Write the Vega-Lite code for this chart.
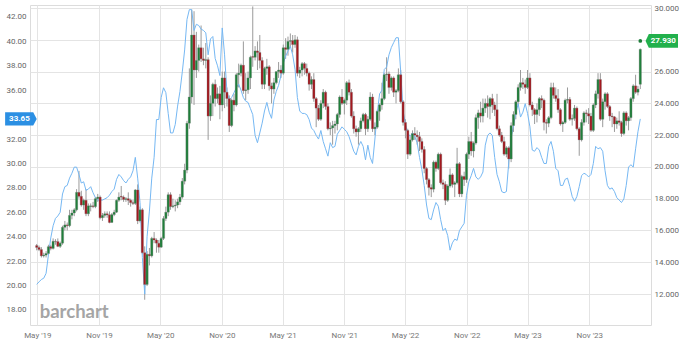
{
"$schema":"https://vega.github.io/schema/vega-lite/v6.json",
"width":621,"height":320,
"autosize":{"type":"none"},
"padding":{"left":30,"top":5,"right":35,"bottom":22},
"background":"#ffffff",
"config":{"view":{"stroke":"#dcdcdc"},"font":"Roboto","axis":{"labelFont":"Roboto","labelFontSize":8,"labelColor":"#666666","ticks":false,"domain":false,"title":null,"gridColor":"#e4e4e4","labelOverlap":false}},
"datasets":{
"w":[
{"d":"2019-04-29","o":15.05,"h":15.15,"l":14.75,"c":14.93,"b":20.1},
{"d":"2019-05-06","o":14.93,"h":15.05,"l":14.7,"c":14.8,"b":20.3},
{"d":"2019-05-13","o":14.8,"h":14.95,"l":14.3,"c":14.4,"b":20.5},
{"d":"2019-05-20","o":14.4,"h":14.6,"l":14.3,"c":14.45,"b":20.6},
{"d":"2019-05-27","o":14.45,"h":14.7,"l":14.3,"c":14.55,"b":21.0},
{"d":"2019-06-03","o":14.55,"h":15.1,"l":14.5,"c":14.98,"b":22.5},
{"d":"2019-06-10","o":14.98,"h":15.1,"l":14.75,"c":14.87,"b":23.9},
{"d":"2019-06-17","o":14.87,"h":15.5,"l":14.8,"c":15.32,"b":24.9},
{"d":"2019-06-24","o":15.32,"h":15.45,"l":15.1,"c":15.3,"b":25.5},
{"d":"2019-07-01","o":15.3,"h":15.5,"l":14.95,"c":15.0,"b":25.7},
{"d":"2019-07-08","o":15.0,"h":15.3,"l":14.9,"c":15.2,"b":26.0},
{"d":"2019-07-15","o":15.2,"h":16.3,"l":15.1,"c":16.2,"b":27.5},
{"d":"2019-07-22","o":16.2,"h":16.6,"l":16.0,"c":16.35,"b":28.1},
{"d":"2019-07-29","o":16.35,"h":16.5,"l":16.0,"c":16.3,"b":28.2},
{"d":"2019-08-05","o":16.3,"h":17.3,"l":16.2,"c":16.95,"b":28.8},
{"d":"2019-08-12","o":16.95,"h":17.3,"l":16.7,"c":17.1,"b":29.2},
{"d":"2019-08-19","o":17.1,"h":17.4,"l":16.9,"c":17.3,"b":29.7},
{"d":"2019-08-26","o":17.3,"h":18.6,"l":17.2,"c":18.4,"b":29.7},
{"d":"2019-09-02","o":18.4,"h":19.75,"l":18.0,"c":18.15,"b":29.1},
{"d":"2019-09-09","o":18.15,"h":18.5,"l":17.5,"c":17.6,"b":28.4},
{"d":"2019-09-16","o":17.6,"h":18.0,"l":17.3,"c":17.9,"b":28.5},
{"d":"2019-09-23","o":17.9,"h":18.6,"l":16.9,"c":17.05,"b":27.8},
{"d":"2019-09-30","o":17.05,"h":17.7,"l":16.9,"c":17.55,"b":27.9},
{"d":"2019-10-07","o":17.5,"h":17.7,"l":17.2,"c":17.55,"b":28.1},
{"d":"2019-10-14","o":17.55,"h":17.8,"l":17.4,"c":17.5,"b":27.6},
{"d":"2019-10-21","o":17.5,"h":18.1,"l":17.4,"c":18.0,"b":27.2},
{"d":"2019-10-28","o":18.0,"h":18.3,"l":17.8,"c":18.1,"b":27.0},
{"d":"2019-11-04","o":18.1,"h":18.2,"l":16.7,"c":16.8,"b":27.0},
{"d":"2019-11-11","o":16.8,"h":17.1,"l":16.6,"c":16.95,"b":27.0},
{"d":"2019-11-18","o":16.95,"h":17.2,"l":16.8,"c":17.05,"b":27.1},
{"d":"2019-11-25","o":17.05,"h":17.2,"l":16.8,"c":16.98,"b":27.2},
{"d":"2019-12-02","o":16.98,"h":17.2,"l":16.45,"c":16.5,"b":27.4},
{"d":"2019-12-09","o":16.5,"h":17.1,"l":16.5,"c":17.0,"b":27.7},
{"d":"2019-12-16","o":17.0,"h":17.3,"l":16.9,"c":17.15,"b":27.9},
{"d":"2019-12-23","o":17.15,"h":17.95,"l":17.1,"c":17.9,"b":28.7},
{"d":"2019-12-30","o":17.9,"h":18.4,"l":17.8,"c":18.1,"b":29.1},
{"d":"2020-01-06","o":18.15,"h":18.8,"l":17.9,"c":18.1,"b":28.9},
{"d":"2020-01-13","o":18.1,"h":18.2,"l":17.8,"c":17.95,"b":28.6},
{"d":"2020-01-20","o":17.95,"h":18.1,"l":17.8,"c":18.0,"b":28.4},
{"d":"2020-01-27","o":18.0,"h":18.4,"l":17.6,"c":17.9,"b":28.7},
{"d":"2020-02-03","o":17.9,"h":18.0,"l":17.5,"c":17.75,"b":28.9},
{"d":"2020-02-10","o":17.75,"h":17.9,"l":17.6,"c":17.7,"b":29.4},
{"d":"2020-02-17","o":17.7,"h":18.6,"l":17.6,"c":18.55,"b":30.5},
{"d":"2020-02-24","o":18.55,"h":18.9,"l":16.4,"c":16.6,"b":28.8},
{"d":"2020-03-02","o":16.6,"h":17.5,"l":16.5,"c":17.3,"b":26.8},
{"d":"2020-03-09","o":17.3,"h":17.4,"l":14.5,"c":14.6,"b":22.3},
{"d":"2020-03-16","o":14.6,"h":15.0,"l":11.64,"c":12.6,"b":19.3},
{"d":"2020-03-23","o":12.6,"h":14.7,"l":12.5,"c":14.5,"b":24.0},
{"d":"2020-03-30","o":14.5,"h":14.9,"l":13.8,"c":14.4,"b":26.1},
{"d":"2020-04-06","o":14.4,"h":15.6,"l":14.3,"c":15.5,"b":28.8},
{"d":"2020-04-13","o":15.5,"h":15.9,"l":15.2,"c":15.4,"b":30.5},
{"d":"2020-04-20","o":15.4,"h":15.5,"l":14.6,"c":15.2,"b":33.6},
{"d":"2020-04-27","o":15.2,"h":15.4,"l":14.6,"c":14.95,"b":33.6},
{"d":"2020-05-04","o":14.95,"h":15.6,"l":14.9,"c":15.5,"b":35.4},
{"d":"2020-05-11","o":15.5,"h":16.9,"l":15.4,"c":16.75,"b":36.2},
{"d":"2020-05-18","o":16.75,"h":17.5,"l":16.6,"c":17.15,"b":35.8},
{"d":"2020-05-25","o":17.15,"h":18.4,"l":16.9,"c":18.25,"b":34.1},
{"d":"2020-06-01","o":18.25,"h":18.4,"l":17.3,"c":17.5,"b":32.5},
{"d":"2020-06-08","o":17.5,"h":18.0,"l":17.4,"c":17.55,"b":32.5},
{"d":"2020-06-15","o":17.55,"h":17.9,"l":17.2,"c":17.6,"b":33.2},
{"d":"2020-06-22","o":17.6,"h":18.0,"l":17.4,"c":17.8,"b":34.7},
{"d":"2020-06-29","o":17.8,"h":18.3,"l":17.6,"c":18.1,"b":35.9},
{"d":"2020-07-06","o":18.1,"h":19.3,"l":18.0,"c":19.1,"b":37.5},
{"d":"2020-07-13","o":19.1,"h":20.2,"l":18.9,"c":19.8,"b":39.3},
{"d":"2020-07-20","o":19.8,"h":22.9,"l":19.6,"c":22.75,"b":41.8},
{"d":"2020-07-27","o":22.75,"h":26.2,"l":22.4,"c":24.4,"b":42.6},
{"d":"2020-08-03","o":24.4,"h":29.9,"l":24.0,"c":28.3,"b":42.6},
{"d":"2020-08-10","o":28.3,"h":29.8,"l":23.9,"c":26.1,"b":40.9},
{"d":"2020-08-17","o":26.1,"h":28.5,"l":25.6,"c":26.7,"b":41.4},
{"d":"2020-08-24","o":26.7,"h":27.7,"l":26.0,"c":27.5,"b":41.3},
{"d":"2020-08-31","o":27.5,"h":28.9,"l":26.6,"c":26.8,"b":41.0},
{"d":"2020-09-07","o":26.8,"h":27.5,"l":26.4,"c":26.7,"b":40.9},
{"d":"2020-09-14","o":26.7,"h":27.8,"l":26.2,"c":26.75,"b":40.7},
{"d":"2020-09-21","o":26.75,"h":26.9,"l":21.7,"c":23.2,"b":38.9},
{"d":"2020-09-28","o":23.2,"h":24.5,"l":22.9,"c":24.0,"b":40.2},
{"d":"2020-10-05","o":24.0,"h":25.3,"l":23.2,"c":25.2,"b":40.4},
{"d":"2020-10-12","o":25.2,"h":25.5,"l":23.8,"c":24.3,"b":38.6},
{"d":"2020-10-19","o":24.3,"h":25.0,"l":24.0,"c":24.6,"b":38.0},
{"d":"2020-10-26","o":24.6,"h":25.1,"l":23.0,"c":23.9,"b":37.2},
{"d":"2020-11-02","o":23.9,"h":26.0,"l":23.5,"c":25.6,"b":41.1},
{"d":"2020-11-09","o":25.6,"h":26.0,"l":23.7,"c":24.7,"b":38.9},
{"d":"2020-11-16","o":24.7,"h":25.0,"l":23.8,"c":24.3,"b":35.9},
{"d":"2020-11-23","o":24.3,"h":24.5,"l":22.2,"c":22.6,"b":35.2},
{"d":"2020-11-30","o":22.6,"h":24.3,"l":22.5,"c":24.2,"b":35.4},
{"d":"2020-12-07","o":24.2,"h":24.6,"l":23.5,"c":23.9,"b":35.8},
{"d":"2020-12-14","o":23.9,"h":25.9,"l":23.8,"c":25.8,"b":36.2},
{"d":"2020-12-21","o":25.8,"h":26.5,"l":25.0,"c":25.9,"b":36.5},
{"d":"2020-12-28","o":25.9,"h":26.5,"l":25.7,"c":26.4,"b":36.0},
{"d":"2021-01-04","o":26.4,"h":27.9,"l":24.6,"c":24.8,"b":35.4},
{"d":"2021-01-11","o":24.8,"h":25.9,"l":24.2,"c":24.85,"b":35.1},
{"d":"2021-01-18","o":24.85,"h":26.0,"l":24.6,"c":25.6,"b":35.0},
{"d":"2021-01-25","o":25.6,"h":27.0,"l":24.9,"c":26.9,"b":34.5},
{"d":"2021-02-01","o":26.95,"h":30.1,"l":26.3,"c":26.9,"b":34.0},
{"d":"2021-02-08","o":26.9,"h":27.6,"l":26.7,"c":27.3,"b":32.3},
{"d":"2021-02-15","o":27.3,"h":27.9,"l":26.1,"c":27.2,"b":31.7},
{"d":"2021-02-22","o":27.2,"h":28.3,"l":26.2,"c":26.7,"b":32.5},
{"d":"2021-03-01","o":26.7,"h":26.9,"l":24.9,"c":25.2,"b":33.3},
{"d":"2021-03-08","o":25.2,"h":26.3,"l":24.9,"c":26.2,"b":34.3},
{"d":"2021-03-15","o":26.2,"h":26.8,"l":25.8,"c":26.3,"b":35.0},
{"d":"2021-03-22","o":26.3,"h":26.4,"l":24.8,"c":25.1,"b":34.2},
{"d":"2021-03-29","o":25.1,"h":25.3,"l":24.0,"c":24.9,"b":33.7},
{"d":"2021-04-05","o":24.9,"h":25.6,"l":24.6,"c":25.3,"b":35.2},
{"d":"2021-04-12","o":25.3,"h":26.0,"l":25.2,"c":26.0,"b":35.9},
{"d":"2021-04-19","o":26.0,"h":26.6,"l":25.6,"c":26.1,"b":36.4},
{"d":"2021-04-26","o":26.1,"h":26.4,"l":25.6,"c":25.9,"b":37.2},
{"d":"2021-05-03","o":25.9,"h":27.7,"l":25.8,"c":27.5,"b":38.2},
{"d":"2021-05-10","o":27.5,"h":28.1,"l":26.8,"c":27.4,"b":38.8},
{"d":"2021-05-17","o":27.4,"h":28.2,"l":27.0,"c":27.9,"b":39.2},
{"d":"2021-05-24","o":27.9,"h":28.4,"l":27.5,"c":27.95,"b":39.6},
{"d":"2021-05-31","o":27.95,"h":28.3,"l":27.2,"c":27.7,"b":38.9},
{"d":"2021-06-07","o":27.7,"h":28.3,"l":27.5,"c":28.0,"b":37.7},
{"d":"2021-06-14","o":28.0,"h":28.2,"l":25.7,"c":25.9,"b":35.4},
{"d":"2021-06-21","o":25.9,"h":26.3,"l":25.6,"c":26.1,"b":34.3},
{"d":"2021-06-28","o":26.1,"h":26.6,"l":25.7,"c":26.5,"b":34.1},
{"d":"2021-07-05","o":26.5,"h":26.6,"l":25.8,"c":26.2,"b":34.1},
{"d":"2021-07-12","o":26.2,"h":26.5,"l":25.7,"c":25.9,"b":34.0},
{"d":"2021-07-19","o":25.9,"h":26.0,"l":24.8,"c":25.2,"b":33.6},
{"d":"2021-07-26","o":25.2,"h":25.7,"l":24.9,"c":25.5,"b":32.9},
{"d":"2021-08-02","o":25.5,"h":25.9,"l":24.1,"c":24.3,"b":32.7},
{"d":"2021-08-09","o":24.3,"h":24.4,"l":22.5,"c":23.7,"b":32.3},
{"d":"2021-08-16","o":23.7,"h":23.9,"l":22.9,"c":23.0,"b":32.0},
{"d":"2021-08-23","o":23.0,"h":24.2,"l":22.9,"c":24.0,"b":32.7},
{"d":"2021-08-30","o":24.0,"h":24.9,"l":23.7,"c":24.7,"b":31.8},
{"d":"2021-09-06","o":24.7,"h":24.8,"l":23.6,"c":23.8,"b":31.2},
{"d":"2021-09-13","o":23.8,"h":24.0,"l":22.3,"c":22.4,"b":30.6},
{"d":"2021-09-20","o":22.4,"h":22.8,"l":22.0,"c":22.45,"b":31.7},
{"d":"2021-09-27","o":22.45,"h":22.9,"l":21.4,"c":22.6,"b":31.3},
{"d":"2021-10-04","o":22.6,"h":22.9,"l":22.1,"c":22.7,"b":31.4},
{"d":"2021-10-11","o":22.7,"h":23.4,"l":22.3,"c":23.3,"b":32.4},
{"d":"2021-10-18","o":23.3,"h":24.5,"l":23.1,"c":24.4,"b":32.7},
{"d":"2021-10-25","o":24.4,"h":24.9,"l":23.9,"c":24.0,"b":33.0},
{"d":"2021-11-01","o":24.0,"h":24.3,"l":23.3,"c":24.2,"b":32.8},
{"d":"2021-11-08","o":24.2,"h":25.4,"l":23.9,"c":25.3,"b":32.6},
{"d":"2021-11-15","o":25.3,"h":25.5,"l":24.5,"c":24.7,"b":32.2},
{"d":"2021-11-22","o":24.7,"h":24.9,"l":23.1,"c":23.2,"b":31.6},
{"d":"2021-11-29","o":23.2,"h":23.5,"l":22.1,"c":22.4,"b":31.0},
{"d":"2021-12-06","o":22.4,"h":22.6,"l":21.9,"c":22.2,"b":30.7},
{"d":"2021-12-13","o":22.2,"h":22.5,"l":21.4,"c":22.4,"b":31.4},
{"d":"2021-12-20","o":22.4,"h":23.1,"l":22.2,"c":22.9,"b":31.8},
{"d":"2021-12-27","o":22.9,"h":23.4,"l":22.8,"c":23.3,"b":31.4},
{"d":"2022-01-03","o":23.3,"h":23.4,"l":22.0,"c":22.4,"b":30.3},
{"d":"2022-01-10","o":22.4,"h":23.2,"l":22.2,"c":23.0,"b":31.5},
{"d":"2022-01-17","o":23.0,"h":24.7,"l":22.9,"c":24.4,"b":30.5},
{"d":"2022-01-24","o":24.4,"h":24.6,"l":22.2,"c":22.4,"b":30.0},
{"d":"2022-01-31","o":22.4,"h":22.8,"l":22.0,"c":22.5,"b":32.0},
{"d":"2022-02-07","o":22.5,"h":23.6,"l":22.4,"c":23.5,"b":34.1},
{"d":"2022-02-14","o":23.5,"h":24.0,"l":22.9,"c":23.9,"b":35.7},
{"d":"2022-02-21","o":23.9,"h":25.3,"l":23.6,"c":24.3,"b":36.0},
{"d":"2022-02-28","o":24.3,"h":25.9,"l":24.2,"c":25.8,"b":37.7},
{"d":"2022-03-07","o":25.8,"h":26.9,"l":25.4,"c":25.85,"b":37.9},
{"d":"2022-03-14","o":25.85,"h":26.0,"l":24.6,"c":25.0,"b":38.9},
{"d":"2022-03-21","o":25.0,"h":25.7,"l":24.8,"c":25.6,"b":39.5},
{"d":"2022-03-28","o":25.6,"h":25.7,"l":24.4,"c":24.7,"b":39.9},
{"d":"2022-04-04","o":24.7,"h":24.9,"l":24.0,"c":24.8,"b":40.3},
{"d":"2022-04-11","o":24.8,"h":26.2,"l":24.7,"c":25.8,"b":40.3},
{"d":"2022-04-18","o":25.8,"h":26.1,"l":24.0,"c":24.1,"b":37.5},
{"d":"2022-04-25","o":24.1,"h":24.2,"l":22.6,"c":22.8,"b":34.3},
{"d":"2022-05-02","o":22.8,"h":23.0,"l":21.8,"c":22.3,"b":33.2},
{"d":"2022-05-09","o":22.3,"h":22.4,"l":20.5,"c":20.8,"b":32.5},
{"d":"2022-05-16","o":20.8,"h":21.9,"l":20.7,"c":21.7,"b":32.2},
{"d":"2022-05-23","o":21.7,"h":22.3,"l":21.6,"c":22.1,"b":32.5},
{"d":"2022-05-30","o":22.1,"h":22.5,"l":21.7,"c":22.0,"b":32.2},
{"d":"2022-06-06","o":22.0,"h":22.3,"l":21.4,"c":21.9,"b":31.7},
{"d":"2022-06-13","o":21.9,"h":22.2,"l":21.0,"c":21.6,"b":30.5},
{"d":"2022-06-20","o":21.6,"h":21.8,"l":20.9,"c":21.1,"b":29.5},
{"d":"2022-06-27","o":21.1,"h":21.3,"l":19.6,"c":19.9,"b":28.2},
{"d":"2022-07-04","o":19.9,"h":20.0,"l":18.9,"c":19.2,"b":26.6},
{"d":"2022-07-11","o":19.2,"h":19.3,"l":18.2,"c":18.7,"b":25.5},
{"d":"2022-07-18","o":18.7,"h":18.9,"l":18.1,"c":18.6,"b":25.4},
{"d":"2022-07-25","o":18.6,"h":20.4,"l":18.4,"c":20.3,"b":26.2},
{"d":"2022-08-01","o":20.3,"h":20.4,"l":19.7,"c":19.9,"b":26.8},
{"d":"2022-08-08","o":19.9,"h":20.9,"l":19.8,"c":20.8,"b":26.5},
{"d":"2022-08-15","o":20.8,"h":20.9,"l":18.9,"c":19.0,"b":25.4},
{"d":"2022-08-22","o":19.0,"h":19.2,"l":18.6,"c":18.9,"b":24.5},
{"d":"2022-08-29","o":18.9,"h":19.1,"l":17.6,"c":17.9,"b":24.7},
{"d":"2022-09-05","o":17.9,"h":18.9,"l":17.8,"c":18.8,"b":24.1},
{"d":"2022-09-12","o":18.8,"h":19.9,"l":18.7,"c":19.5,"b":22.9},
{"d":"2022-09-19","o":19.5,"h":19.6,"l":18.7,"c":18.9,"b":23.5},
{"d":"2022-09-26","o":18.9,"h":19.1,"l":18.1,"c":19.0,"b":23.8},
{"d":"2022-10-03","o":19.0,"h":21.2,"l":18.9,"c":20.2,"b":23.7},
{"d":"2022-10-10","o":20.2,"h":20.3,"l":18.1,"c":18.3,"b":24.5},
{"d":"2022-10-17","o":18.3,"h":19.5,"l":18.1,"c":19.4,"b":24.8},
{"d":"2022-10-24","o":19.4,"h":19.7,"l":18.8,"c":19.2,"b":25.1},
{"d":"2022-10-31","o":19.2,"h":20.9,"l":19.0,"c":20.8,"b":27.4},
{"d":"2022-11-07","o":20.8,"h":21.9,"l":20.5,"c":21.6,"b":28.5},
{"d":"2022-11-14","o":21.6,"h":22.2,"l":20.7,"c":21.0,"b":29.0},
{"d":"2022-11-21","o":21.0,"h":21.6,"l":20.6,"c":21.5,"b":29.6},
{"d":"2022-11-28","o":21.5,"h":23.3,"l":21.4,"c":23.1,"b":28.9},
{"d":"2022-12-05","o":23.1,"h":23.6,"l":22.4,"c":23.4,"b":28.7},
{"d":"2022-12-12","o":23.4,"h":24.1,"l":22.8,"c":23.2,"b":28.9},
{"d":"2022-12-19","o":23.2,"h":24.3,"l":22.8,"c":23.7,"b":29.3},
{"d":"2022-12-26","o":23.7,"h":24.3,"l":23.4,"c":24.0,"b":31.5},
{"d":"2023-01-02","o":24.0,"h":24.5,"l":23.1,"c":23.8,"b":32.3},
{"d":"2023-01-09","o":23.8,"h":24.4,"l":23.0,"c":24.3,"b":32.5},
{"d":"2023-01-16","o":24.3,"h":24.6,"l":23.4,"c":23.9,"b":32.3},
{"d":"2023-01-23","o":23.9,"h":24.1,"l":23.2,"c":23.6,"b":30.5},
{"d":"2023-01-30","o":23.6,"h":24.6,"l":22.3,"c":22.4,"b":29.1},
{"d":"2023-02-06","o":22.4,"h":22.6,"l":21.9,"c":22.0,"b":28.5},
{"d":"2023-02-13","o":22.0,"h":22.2,"l":21.5,"c":21.6,"b":27.7},
{"d":"2023-02-20","o":21.6,"h":21.9,"l":20.7,"c":20.8,"b":27.6},
{"d":"2023-02-27","o":20.8,"h":21.3,"l":20.6,"c":21.2,"b":27.7},
{"d":"2023-03-06","o":21.2,"h":21.3,"l":19.9,"c":20.5,"b":30.1},
{"d":"2023-03-13","o":20.5,"h":22.8,"l":20.3,"c":22.6,"b":32.1},
{"d":"2023-03-20","o":22.6,"h":23.5,"l":22.2,"c":23.3,"b":33.1},
{"d":"2023-03-27","o":23.3,"h":24.2,"l":23.0,"c":24.1,"b":34.1},
{"d":"2023-04-03","o":24.1,"h":25.2,"l":23.9,"c":25.0,"b":34.9},
{"d":"2023-04-10","o":25.0,"h":26.1,"l":24.8,"c":25.3,"b":33.8},
{"d":"2023-04-17","o":25.3,"h":25.6,"l":24.9,"c":25.2,"b":34.2},
{"d":"2023-04-24","o":25.2,"h":25.5,"l":24.6,"c":25.0,"b":34.9},
{"d":"2023-05-01","o":25.0,"h":26.1,"l":24.9,"c":25.6,"b":34.1},
{"d":"2023-05-08","o":25.6,"h":25.9,"l":23.8,"c":23.9,"b":33.0},
{"d":"2023-05-15","o":23.9,"h":24.1,"l":23.2,"c":23.6,"b":31.1},
{"d":"2023-05-22","o":23.6,"h":23.7,"l":22.7,"c":23.3,"b":31.0},
{"d":"2023-05-29","o":23.3,"h":24.0,"l":22.8,"c":23.6,"b":31.3},
{"d":"2023-06-05","o":23.6,"h":24.4,"l":23.2,"c":24.3,"b":31.1},
{"d":"2023-06-12","o":24.3,"h":24.5,"l":23.7,"c":24.2,"b":30.5},
{"d":"2023-06-19","o":24.2,"h":24.3,"l":22.3,"c":22.8,"b":30.0},
{"d":"2023-06-26","o":22.8,"h":23.0,"l":22.1,"c":22.75,"b":30.0},
{"d":"2023-07-03","o":22.75,"h":23.2,"l":22.5,"c":23.1,"b":31.4},
{"d":"2023-07-10","o":23.1,"h":25.3,"l":23.0,"c":25.0,"b":31.8},
{"d":"2023-07-17","o":25.0,"h":25.3,"l":24.3,"c":24.5,"b":31.0},
{"d":"2023-07-24","o":24.5,"h":25.0,"l":24.1,"c":24.3,"b":29.6},
{"d":"2023-07-31","o":24.3,"h":24.9,"l":23.4,"c":23.6,"b":29.4},
{"d":"2023-08-07","o":23.6,"h":23.7,"l":22.6,"c":22.7,"b":28.2},
{"d":"2023-08-14","o":22.7,"h":22.9,"l":22.2,"c":22.8,"b":28.2},
{"d":"2023-08-21","o":22.8,"h":24.3,"l":22.7,"c":24.2,"b":28.7},
{"d":"2023-08-28","o":24.2,"h":25.0,"l":24.0,"c":24.25,"b":28.8},
{"d":"2023-09-04","o":24.25,"h":24.4,"l":22.9,"c":23.0,"b":28.1},
{"d":"2023-09-11","o":23.0,"h":23.3,"l":22.6,"c":23.05,"b":27.3},
{"d":"2023-09-18","o":23.05,"h":23.9,"l":22.9,"c":23.7,"b":26.9},
{"d":"2023-09-25","o":23.7,"h":23.8,"l":22.3,"c":22.4,"b":27.3},
{"d":"2023-10-02","o":22.4,"h":22.5,"l":20.7,"c":21.7,"b":28.1},
{"d":"2023-10-09","o":21.7,"h":23.0,"l":21.6,"c":22.8,"b":29.0},
{"d":"2023-10-16","o":22.8,"h":23.5,"l":22.6,"c":23.4,"b":29.2},
{"d":"2023-10-23","o":23.4,"h":23.6,"l":22.8,"c":23.35,"b":29.1},
{"d":"2023-10-30","o":23.35,"h":23.7,"l":22.7,"c":23.2,"b":28.9},
{"d":"2023-11-06","o":23.2,"h":23.4,"l":22.2,"c":22.3,"b":29.1},
{"d":"2023-11-13","o":22.3,"h":24.0,"l":22.2,"c":23.9,"b":30.0},
{"d":"2023-11-20","o":23.9,"h":24.8,"l":23.7,"c":24.6,"b":31.4},
{"d":"2023-11-27","o":24.6,"h":25.9,"l":24.3,"c":25.5,"b":31.2},
{"d":"2023-12-04","o":25.5,"h":25.9,"l":22.9,"c":23.0,"b":31.3},
{"d":"2023-12-11","o":23.0,"h":24.3,"l":22.5,"c":24.1,"b":31.0},
{"d":"2023-12-18","o":24.1,"h":24.7,"l":23.6,"c":24.6,"b":29.4},
{"d":"2023-12-25","o":24.6,"h":24.7,"l":23.7,"c":23.8,"b":28.2},
{"d":"2024-01-01","o":23.8,"h":23.9,"l":22.9,"c":23.2,"b":27.9},
{"d":"2024-01-08","o":23.2,"h":23.4,"l":22.5,"c":23.15,"b":28.0},
{"d":"2024-01-15","o":23.15,"h":23.2,"l":22.2,"c":22.7,"b":27.7},
{"d":"2024-01-22","o":22.7,"h":23.1,"l":22.4,"c":22.9,"b":27.2},
{"d":"2024-01-29","o":22.9,"h":23.5,"l":22.6,"c":22.8,"b":27.0},
{"d":"2024-02-05","o":22.8,"h":22.9,"l":21.9,"c":22.1,"b":26.8},
{"d":"2024-02-12","o":22.1,"h":23.5,"l":22.0,"c":23.4,"b":27.1},
{"d":"2024-02-19","o":23.4,"h":23.5,"l":22.6,"c":22.9,"b":28.2},
{"d":"2024-02-26","o":22.9,"h":23.2,"l":22.3,"c":23.1,"b":29.7},
{"d":"2024-03-04","o":23.1,"h":24.4,"l":22.9,"c":24.3,"b":29.9},
{"d":"2024-03-11","o":24.3,"h":25.2,"l":24.1,"c":25.1,"b":29.7},
{"d":"2024-03-18","o":25.1,"h":25.8,"l":24.6,"c":24.7,"b":31.2},
{"d":"2024-03-25","o":24.7,"h":25.1,"l":24.5,"c":24.9,"b":32.6},
{"d":"2024-04-01","o":25.2,"h":27.45,"l":24.9,"c":27.4,"b":33.65}
],
"leftTag":[{"t":"33.65","v":33.65,"d":"2024-04-01"}],
"rightTag":[{"t":"27.930","v":27.93,"d":"2024-04-01"}],
"logo":[{"t":"barchart","d":"2024-04-01"}]
},
"encoding":{
"x":{"field":"d","type":"temporal","title":null,
"scale":{"domain":[{"year":2019,"month":4,"date":24},{"year":2024,"month":4,"date":18}]},
"axis":{"format":"%b '%y","labelPadding":6,"grid":true,"labelColor":"#777777",
"values":[{"year":2019,"month":5,"date":1},{"year":2019,"month":11,"date":1},{"year":2020,"month":5,"date":1},{"year":2020,"month":11,"date":1},{"year":2021,"month":5,"date":1},{"year":2021,"month":11,"date":1},{"year":2022,"month":5,"date":1},{"year":2022,"month":11,"date":1},{"year":2023,"month":5,"date":1},{"year":2023,"month":11,"date":1}]}}
},
"layer":[
{"data":{"name":"w"},"mark":{"type":"rule","color":"#9a9a9a","strokeWidth":1},
"encoding":{"y":{"field":"l","type":"quantitative","title":null,"scale":{"domain":[10.05,30.19],"nice":false,"zero":false},
"axis":{"orient":"right","grid":true,"format":".3f","labelPadding":3,"values":[12,14,16,18,20,22,24,26,28,30],"labelExpr":"datum.value == 28 ? '' : datum.label"}},"y2":{"field":"h"}}},
{"data":{"name":"w"},"mark":{"type":"line","color":"#76b8f3","strokeWidth":1,"interpolate":"linear"},
"encoding":{"y":{"field":"b","type":"quantitative","title":null,"scale":{"domain":[16.77,42.98],"nice":false,"zero":false},
"axis":{"orient":"left","grid":false,"format":".2f","labelPadding":4,"values":[18,20,22,24,26,28,30,32,36,38,40,42]}}}},
{"data":{"name":"w"},"mark":{"type":"bar","width":2.3,"stroke":"#7a7a7a","strokeWidth":0.3},
"encoding":{"y":{"field":"o","type":"quantitative","scale":{"domain":[10.05,30.19],"nice":false,"zero":false},"axis":null},"y2":{"field":"c"},
"color":{"condition":{"test":"datum.c >= datum.o","value":"#1f7f3a"},"value":"#a3191f"}}},
{"data":{"name":"logo"},"mark":{"type":"text","align":"left","baseline":"alphabetic","fontSize":18.5,"font":"Lato","fontWeight":"bold","color":"#a5a5a5"},
"encoding":{"x":{"datum":{"year":2019,"month":5,"date":8},"type":"temporal"},"y":{"datum":17.35,"type":"quantitative","scale":{"domain":[16.77,42.98],"nice":false,"zero":false},"axis":null},"text":{"field":"t"}}},
{"data":{"name":"leftTag"},"mark":{"type":"point","filled":true,"opacity":1,"color":"#2b8fe3","size":1000,"shape":"M-1,-0.42 L0.78,-0.42 L1,0 L0.78,0.42 L-1,0.42 Z"},
"encoding":{"x":{"datum":{"year":2019,"month":3,"date":13},"type":"temporal"},"y":{"field":"v","type":"quantitative","scale":{"domain":[16.77,42.98],"nice":false,"zero":false},"axis":null}}},
{"data":{"name":"leftTag"},"mark":{"type":"text","color":"#ffffff","fontSize":8,"fontWeight":"bold","align":"center","baseline":"middle","dx":-1.5},
"encoding":{"x":{"datum":{"year":2019,"month":3,"date":13},"type":"temporal"},"y":{"field":"v","type":"quantitative","scale":{"domain":[16.77,42.98],"nice":false,"zero":false},"axis":null},"text":{"field":"t"}}},
{"data":{"name":"rightTag"},"mark":{"type":"point","filled":true,"opacity":1,"color":"#1e7d3a","size":14},
"encoding":{"x":{"field":"d","type":"temporal"},"y":{"field":"v","type":"quantitative","scale":{"domain":[10.05,30.19],"nice":false,"zero":false},"axis":null}}},
{"data":{"name":"rightTag"},"mark":{"type":"point","filled":true,"opacity":1,"color":"#22b04c","size":1050,"shape":"M-1,0 L-0.8,-0.42 L1,-0.42 L1,0.42 L-0.8,0.42 Z"},
"encoding":{"x":{"datum":{"year":2024,"month":6,"date":4},"type":"temporal"},"y":{"field":"v","type":"quantitative","scale":{"domain":[10.05,30.19],"nice":false,"zero":false},"axis":null}}},
{"data":{"name":"rightTag"},"mark":{"type":"text","color":"#ffffff","fontSize":8,"fontWeight":"bold","align":"center","baseline":"middle","dx":1.5},
"encoding":{"x":{"datum":{"year":2024,"month":6,"date":4},"type":"temporal"},"y":{"field":"v","type":"quantitative","scale":{"domain":[10.05,30.19],"nice":false,"zero":false},"axis":null},"text":{"field":"t"}}}
],
"resolve":{"scale":{"y":"independent"}}
}
